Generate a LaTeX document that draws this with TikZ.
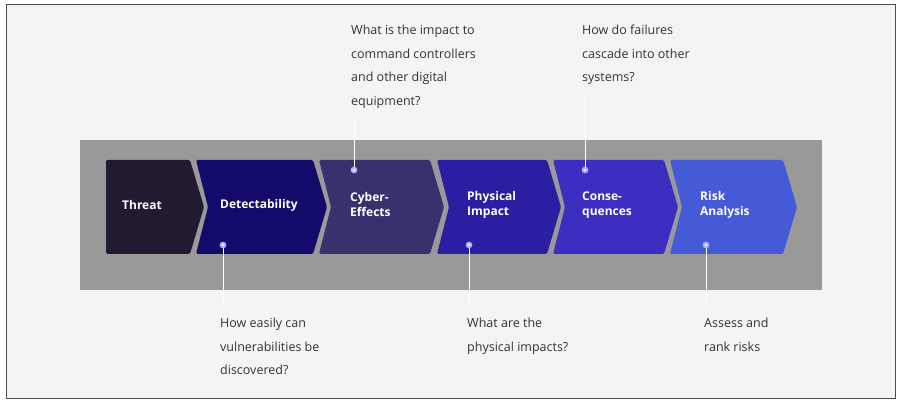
\documentclass[tikz,border=0pt]{standalone}
\usepackage{fontspec}
\setmainfont{Open Sans}
\begin{document}
\begin{tikzpicture}[x=1pt,y=-1pt,
  lab/.style={anchor=west,text=white,font=\fontsize{12}{15}\selectfont\bfseries,align=left,inner sep=0},
  q/.style={anchor=north west,text=black!80,font=\fontsize{12.5}{23.5}\selectfont,align=left,inner sep=0},
  dot/.style={circle,fill=white,draw=white!70!blue,line width=2pt,inner sep=1.6pt},
  small/.style={circle,fill=white,inner sep=1.2pt},
  conn/.style={draw=white,line width=1pt}]
\useasboundingbox (0,0) rectangle (900,403);
\fill[white] (0,0) rectangle (900,403);
\draw[fill=blue!3!gray!8,draw=black!70,line width=0.8pt] (6,4) rectangle (895,398);
\fill[gray!75!black!55] (80,140) rectangle (822,290);
\fill[gray!100!white!70] (80,140) rectangle (822,290);
\fill[black!40] (80,140) rectangle (822,290);
% chevrons
\fill[rounded corners=1.5pt,fill={rgb,255:red,34;green,26;blue,48}] (106,160)--(190,160)--(204,207)--(190,254)--(106,254)--cycle;
\def\chev#1#2#3{\fill[rounded corners=1.5pt,fill={#3}] (#1,160)--(#2,160)--(#2+14,207)--(#2,254)--(#1,254)--(#1+12,207)--cycle;}
\chev{196}{313}{rgb,255:red,19;green,11;blue,107}
\chev{319}{430}{rgb,255:red,54;green,50;blue,110}
\chev{437}{547}{rgb,255:red,42;green,31;blue,163}
\chev{553}{664}{rgb,255:red,59;green,46;blue,192}
\chev{670}{783}{rgb,255:red,68;green,90;blue,214}
\node[lab] (t) at (122,205) {Threat};
\node[lab] (d) at (220,205) {Detectability};
\node[lab] (c) at (350,205) {Cyber-\\Effects};
\node[lab] (p) at (467,205) {Physical\\Impact};
\node[lab] (s) at (582,205) {Conse-\\quences};
\node[lab] (r) at (700,205) {Risk\\Analysis};
% questions
\node[q] (qc) at (351,25) {What is the impact to\\command controllers\\and other digital\\equipment?};
\node[q] (qs) at (582,25) {How do failures\\cascade into other\\systems?};
\node[q] (qd) at (220,318) {How easily can\\vulnerabilities be\\discovered?};
\node[q] (qp) at (467,318) {What are the\\physical impacts?};
\node[q] (qr) at (704,318) {Assess and\\rank risks};
% connectors
\coordinate (ec) at (354,118); \coordinate (es) at (585,95);
\coordinate (ed) at (223,304); \coordinate (ep) at (469,304); \coordinate (er) at (706,304);
\node[dot] (dc) at (354,170) {}; \node[dot] (ds) at (585,170) {};
\node[dot] (dd) at (223,245) {}; \node[dot] (dp) at (469,245) {}; \node[dot] (dr) at (706,245) {};
\draw[conn] (dc)--(ec); \draw[conn] (ds)--(es);
\draw[conn] (dd)--(ed); \draw[conn] (dp)--(ep); \draw[conn] (dr)--(er);
\node[small] at (ed) {}; \node[small] at (ep) {}; \node[small] at (er) {};
\end{tikzpicture}
\end{document}
